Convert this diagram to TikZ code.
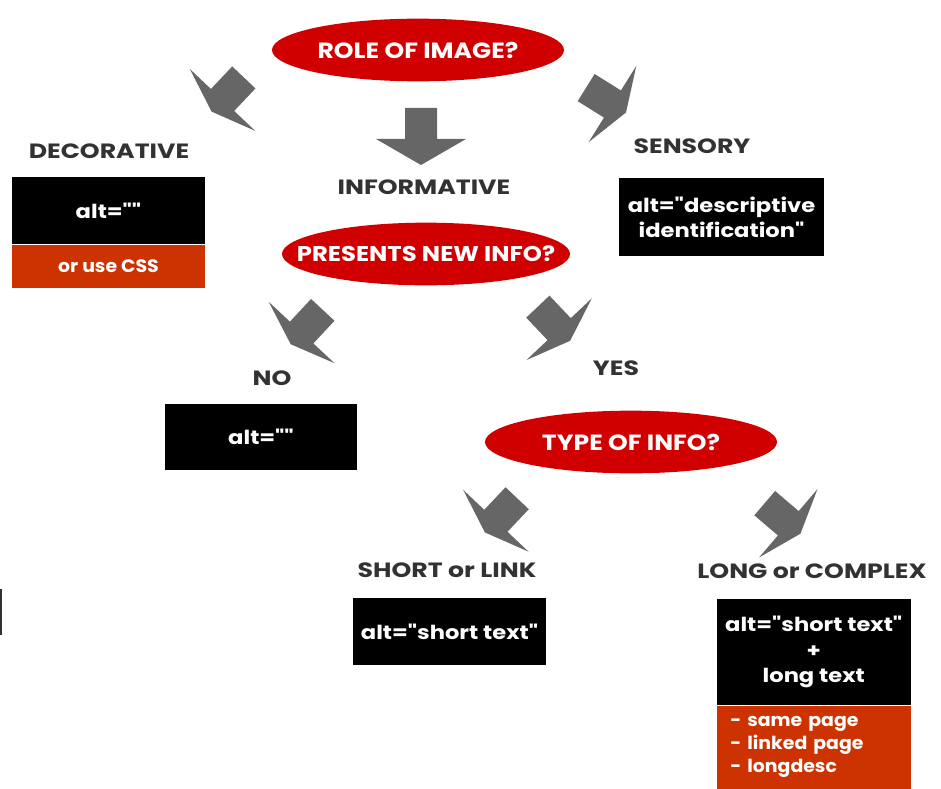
\documentclass[tikz,border=0pt]{standalone}
\usepackage{fontspec}
\newfontfamily\ovalfont{Poppins}[FakeStretch=1.14]
\newfontfamily\tagfont{Poppins}[FakeStretch=1.22]
\newfontfamily\boxfont{Poppins}[FakeStretch=1.17]
\newfontfamily\notefont{Poppins}[FakeStretch=1.05]
\usetikzlibrary{shapes.geometric}

\definecolor{ovalred}{RGB}{208,0,0}
\definecolor{boxorange}{RGB}{204,51,0}
\definecolor{arrowgray}{RGB}{102,102,102}
\definecolor{labelgray}{RGB}{50,50,50}

\tikzset{
	oval/.style={ellipse, fill=ovalred, text=white, inner xsep=-40pt, inner ysep=0pt, font=\ovalfont\bfseries\fontsize{16.5}{18}\selectfont},
	tag/.style={text=labelgray, inner sep=0pt, font=\tagfont\bfseries\fontsize{15.5}{17}\selectfont},
	blackbox/.style={fill=black, text=white, inner sep=0pt, align=center, font=\boxfont\bfseries\fontsize{14.5}{19}\selectfont},
	orangebox/.style={fill=boxorange, text=white, inner sep=0pt, font=\notefont\bfseries\fontsize{13.5}{17.5}\selectfont},
	pics/blockarrow/.style={code={
		\fill[arrowgray] (-16,15.5) -- (16,15.5) -- (16,-15.5) -- (45,-15.5) -- (0,{-15.5-#1}) -- (-45,-15.5) -- (-16,-15.5) -- cycle;
	}},
	pics/blockarrow/.default=16
}

\begin{document}
\begin{tikzpicture}[x=0.75pt,y=0.75pt,yscale=-1,xscale=1]
	\useasboundingbox (0,0) rectangle (941,788);
	
	% Ovals
	\node[oval, minimum width=219pt, minimum height=47pt] (role) at (418,50) {ROLE OF IMAGE?};
	\node[oval, minimum width=216pt, minimum height=47pt, font=\ovalfont\bfseries\fontsize{16}{18}\selectfont] (presents) at (426,254) {PRESENTS NEW INFO?};
	\node[oval, minimum width=219pt, minimum height=47pt] (type) at (631,442) {TYPE OF INFO?};
	
	% Block arrows
	\pic[rotate=-43.4] (roletodeco) at (233.2,88.7) {blockarrow};
	\pic (roletoinfo) at (421,123.5) {blockarrow=26};
	\pic[rotate=58] (roletosens) at (599.3,95.8) {blockarrow};
	\pic[rotate=-43] (presentstono) at (312.2,321.2) {blockarrow};
	\pic[rotate=43.4] (presentstoyes) at (548.5,317.9) {blockarrow};
	\pic[rotate=-43.4] (typetoshort) at (506.5,509.5) {blockarrow};
	\pic[rotate=49.5] (typetolong) at (776.5,513.2) {blockarrow};
	
	% Labels
	\node[tag] (decorative) at (109,151) {DECORATIVE};
	\node[tag] (informative) at (424,187) {INFORMATIVE};
	\node[tag] (sensory) at (692,146) {SENSORY};
	\node[tag] (no) at (272,378) {NO};
	\node[tag] (yes) at (616,368) {YES};
	\node[tag] (short) at (447,570) {SHORT or LINK};
	\node[tag] (long) at (812,571) {LONG or COMPLEX};
	
	% Boxes
	\node[blackbox, minimum width=144.75pt, minimum height=50.25pt] (decobox) at (108.5,210.5) {alt=""};
	\node[orangebox, minimum width=144.75pt, minimum height=32.25pt, anchor=north] (decocss) at (decobox.south) {or use CSS};
	\node[blackbox, minimum width=153.75pt, minimum height=58.5pt] (sensbox) at (721.5,217) {alt="descriptive\\identification"};
	\node[blackbox, minimum width=144pt, minimum height=49.5pt] (nobox) at (261,437) {alt=""};
	\node[blackbox, minimum width=144.75pt, minimum height=50.25pt] (shortbox) at (449.5,631.5) {alt="short text"};
	\node[blackbox, minimum width=145.5pt, minimum height=79.5pt] (longbox) at (813.7,652) {alt="short text"\\+\\long text};
	\node[orangebox, minimum width=145.5pt, minimum height=62.25pt, text width=125pt, align=left, anchor=north] (longlist) at (longbox.south) {- same page\\- linked page\\- longdesc};
	
	% Edge mark
	\draw[labelgray, line width=1.5pt] (1,589) -- (1,635);
\end{tikzpicture}
\end{document}
